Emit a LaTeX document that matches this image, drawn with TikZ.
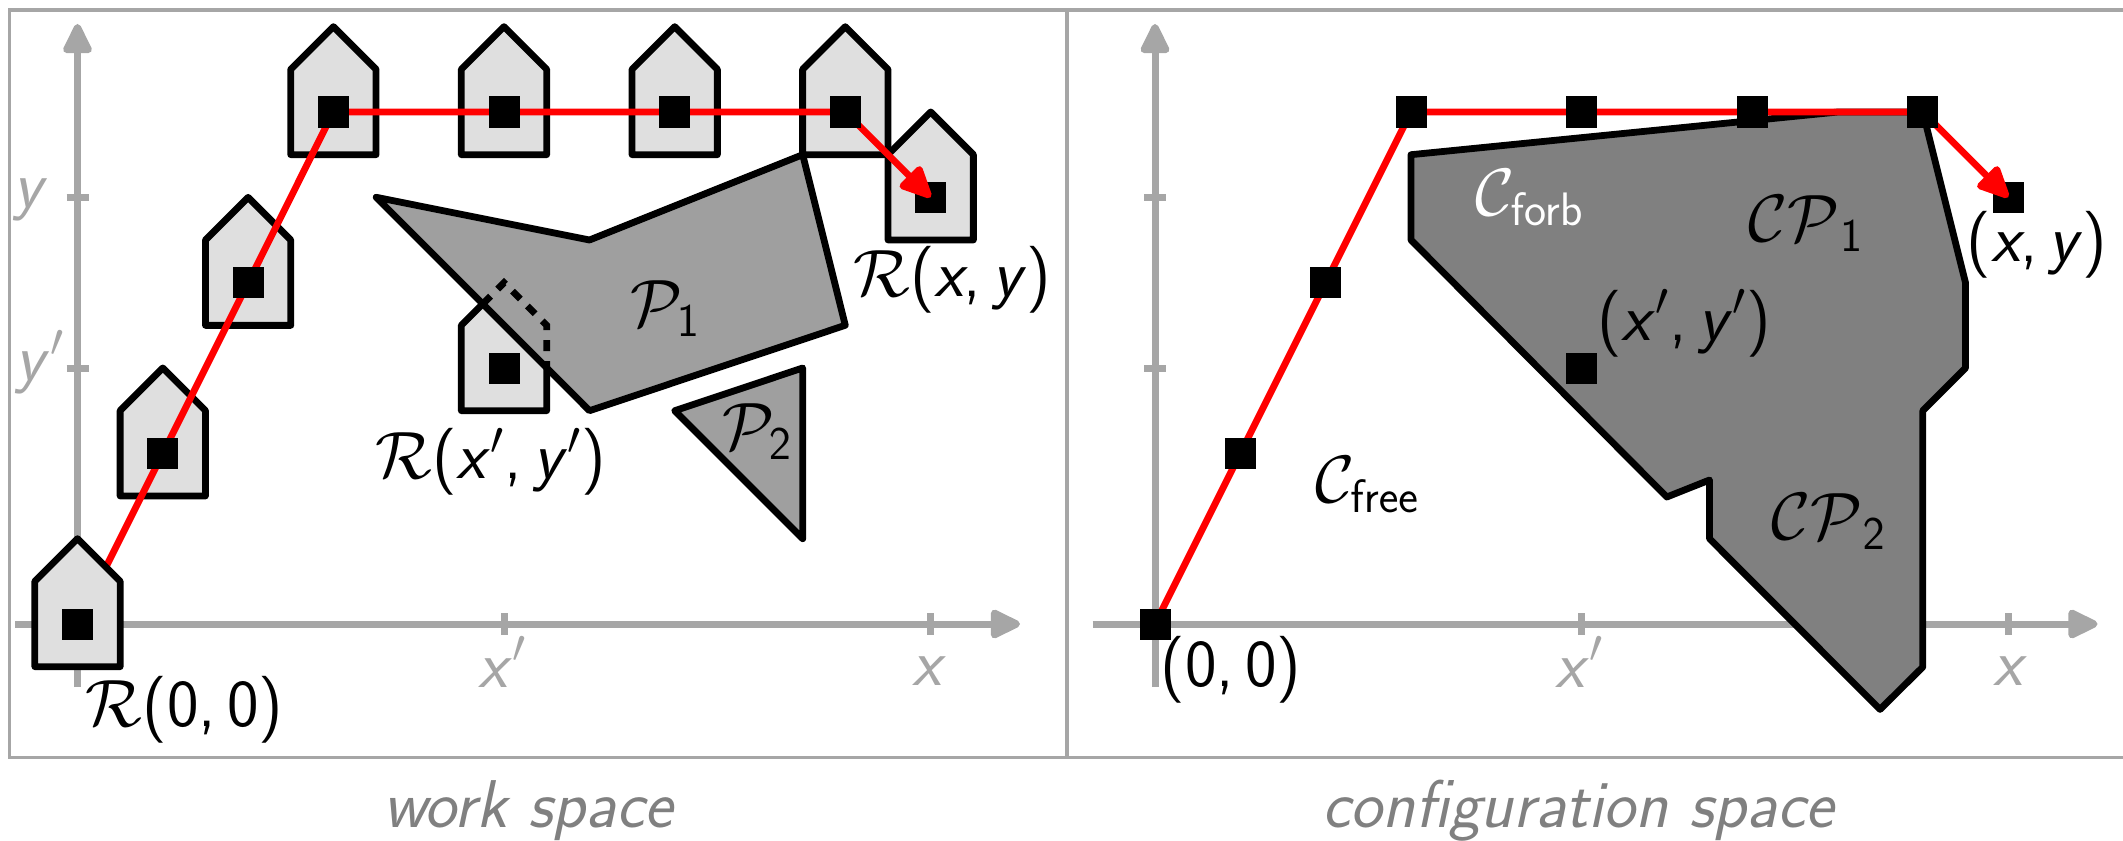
\documentclass[tikz,border=0pt]{standalone}
\usepackage{fix-cm}
\usetikzlibrary{arrows.meta}
\definecolor{axgray}{HTML}{A6A6A6}
\definecolor{robgray}{HTML}{DFDFDF}
\definecolor{obsgray}{HTML}{9F9F9F}
\definecolor{cgray}{HTML}{808080}
\newcommand{\vx}{\textit{x}}
\newcommand{\vy}{\textit{y}}
\tikzset{
  frameline/.style={draw=axgray,line width=1.75pt},
  axisline/.style={draw=axgray,line width=3.5pt,-{Triangle[round,length=17pt,width=15.5pt]}},
  axisplain/.style={draw=axgray,line width=3.5pt},
  robotshape/.style={draw=black,fill=robgray,line width=3.4pt,line join=round},
  obstacle/.style={draw=black,fill=obsgray,line width=3.4pt,line join=round},
  cobstacle/.style={draw=black,fill=cgray,line width=3.4pt,line join=round},
  redpath/.style={draw=red,line width=3.4pt},
  redarrow/.style={draw=red,line width=3.4pt,-{Triangle[round,length=18pt,width=16pt]}},
  refsq/.style={fill=black,inner sep=0pt,minimum size=15.5pt},
  lab/.style={inner sep=0pt,font=\fontsize{33.5}{38}\selectfont\sffamily},
  axlab/.style={lab,text=axgray},
  caplab/.style={inner sep=0pt,font=\fontsize{33.8}{40}\selectfont\sffamily\itshape,text=cgray}
}
\newcommand{\robotat}[2]{\draw[robotshape,shift={(#1,#2)}] (-42.67,42.67) -- (-42.67,-42.67) -- (0,-85.33) -- (42.67,-42.67) -- (42.67,42.67) -- cycle;}
\begin{document}
\begin{tikzpicture}[x=0.5pt,y=-0.5pt]
\useasboundingbox (0,0) rectangle (2123,840);
% frames
\draw[frameline] (2130,10) -- (9.6,10) -- (9.6,757.5) -- (2130,757.5);
\draw[frameline] (1067,10) -- (1067,757.5);
% left axes
\coordinate (ly0) at (77.5,687);
\coordinate (ly1) at (77.5,24);
\coordinate (lx0) at (15,624);
\coordinate (lx1) at (1020,624);
\draw[axisline] (ly0) -- (ly1);
\draw[axisline] (lx0) -- (lx1);
\draw[axisplain] (66.5,197.3) -- (88.5,197.3);
\draw[axisplain] (66.5,368) -- (88.5,368);
\draw[axisplain] (504,613) -- (504,635);
\draw[axisplain] (930.7,613) -- (930.7,635);
% right axes
\coordinate (ry0) at (1155,687);
\coordinate (ry1) at (1155,24);
\coordinate (rx0) at (1092.5,624);
\coordinate (rx1) at (2097.5,624);
\draw[axisline] (ry0) -- (ry1);
\draw[axisline] (rx0) -- (rx1);
\draw[axisplain] (1144,197.3) -- (1166,197.3);
\draw[axisplain] (1144,368) -- (1166,368);
\draw[axisplain] (1581.5,613) -- (1581.5,635);
\draw[axisplain] (2008.2,613) -- (2008.2,635);
% axis labels
\node[axlab] at (31,200) {\vy};
\node[axlab] at (40,362) {\vy$'$};
\node[axlab] at (502,662) {\vx$'$};
\node[axlab] at (929,671) {\vx};
\node[axlab] at (1579.5,662) {\vx$'$};
\node[axlab] at (2010,671) {\vx};
% robots
\robotat{162.8}{453.3}
\robotat{248.1}{282.7}
\robotat{333.4}{112}
\robotat{504}{112}
\robotat{674.7}{112}
\robotat{845.3}{112}
\robotat{930.7}{197.3}
\robotat{504}{368}
% obstacles
\draw[obstacle] (376.2,197.3) -- (589.5,240) -- (802.7,154.7) -- (845.3,325.3) -- (589.5,410.7) -- cycle;
\draw[obstacle] (674.7,410.7) -- (802.7,368) -- (802.7,538.7) -- cycle;
\draw[draw=black,line width=3.4pt,dash pattern=on 5.5pt off 5pt] (482.8,303.9) -- (504,282.7) -- (546.7,325.3) -- (546.7,367.8);
% left squares
\node[refsq] (a0) at (77.5,624) {};
\node[refsq] (a1) at (162.8,453.3) {};
\node[refsq] (a2) at (248.1,282.7) {};
\node[refsq] (a3) at (333.4,112) {};
\node[refsq] (a4) at (504,112) {};
\node[refsq] (a5) at (674.7,112) {};
\node[refsq] (a6) at (845.3,112) {};
\node[refsq] (a7) at (930.7,197.3) {};
\node[refsq] (am) at (504,368) {};
\draw[redpath] (a0.center) -- (a1.center) -- (a2.center) -- (a3.center) -- (a4.center) -- (a5.center) -- (a6.center);
\draw[redarrow] (a6.center) -- (a7.center);
\robotat{77.5}{624}
\node[refsq] at (a0.center) {};
\node[refsq] at (a1.center) {};
\node[refsq] at (a2.center) {};
\node[refsq] at (a3.center) {};
\node[refsq] at (a4.center) {};
\node[refsq] at (a5.center) {};
\node[refsq] at (a6.center) {};
% left labels
\node[lab] at (184.7,710) {$\mathcal{R}$(0,\,0)};
\node[lab] at (490.5,461.5) {$\mathcal{R}$(\vx$'$,\,\vy$'$)};
\node[lab] at (952,280) {$\mathcal{R}$(\vx,\,\vy)};
\node[lab] at (665,308.5) {$\mathcal{P}_{\mathsf{1}}$};
\node[lab] at (757,431.5) {$\mathcal{P}_{\mathsf{2}}$};
\node[caplab] at (528,811) {work space};
% C obstacle
\draw[cobstacle] (1411,154.7) -- (1838,112) -- (1922.8,112) -- (1965.5,282.7) -- (1965.5,368) -- (1922.8,410.7) -- (1922.8,667) -- (1880,709.4) -- (1709.5,538.7) -- (1709.5,480) -- (1666.8,497) -- (1411,240) -- cycle;
% right squares and path
\node[refsq] (b0) at (1155,624) {};
\node[refsq] (b1) at (1240.3,453.3) {};
\node[refsq] (b2) at (1325.6,282.7) {};
\node[refsq] (b3) at (1411,112) {};
\node[refsq] (b4) at (1581.5,112) {};
\node[refsq] (b5) at (1752,112) {};
\node[refsq] (b6) at (1922.8,112) {};
\node[refsq] (b7) at (2008.2,197.3) {};
\node[refsq] (bm) at (1581.5,368) {};
\draw[redpath] (b0.center) -- (b1.center) -- (b2.center) -- (b3.center) -- (b4.center) -- (b5.center) -- (b6.center);
\draw[redarrow] (b6.center) -- (b7.center);
\node[refsq] at (b0.center) {};
\node[refsq] at (b1.center) {};
\node[refsq] at (b2.center) {};
\node[refsq] at (b3.center) {};
\node[refsq] at (b4.center) {};
\node[refsq] at (b5.center) {};
\node[refsq] at (b6.center) {};
% right labels
\node[lab,text=white] at (1529.5,197.5) {$\mathcal{C}_{\mathsf{forb}}$};
\node[lab] at (1806,223.5) {$\mathcal{CP}_{\mathsf{1}}$};
\node[lab] at (1684,323.5) {(\vx$'$,\,\vy$'$)};
\node[lab] at (2037,245) {(\vx,\,\vy)};
\node[lab] at (1367,484.5) {$\mathcal{C}_{\mathsf{free}}$};
\node[lab] at (1828.5,521.5) {$\mathcal{CP}_{\mathsf{2}}$};
\node[lab] at (1231,670) {(0,\,0)};
\node[caplab] at (1578,811) {configuration space};
\end{tikzpicture}
\end{document}
